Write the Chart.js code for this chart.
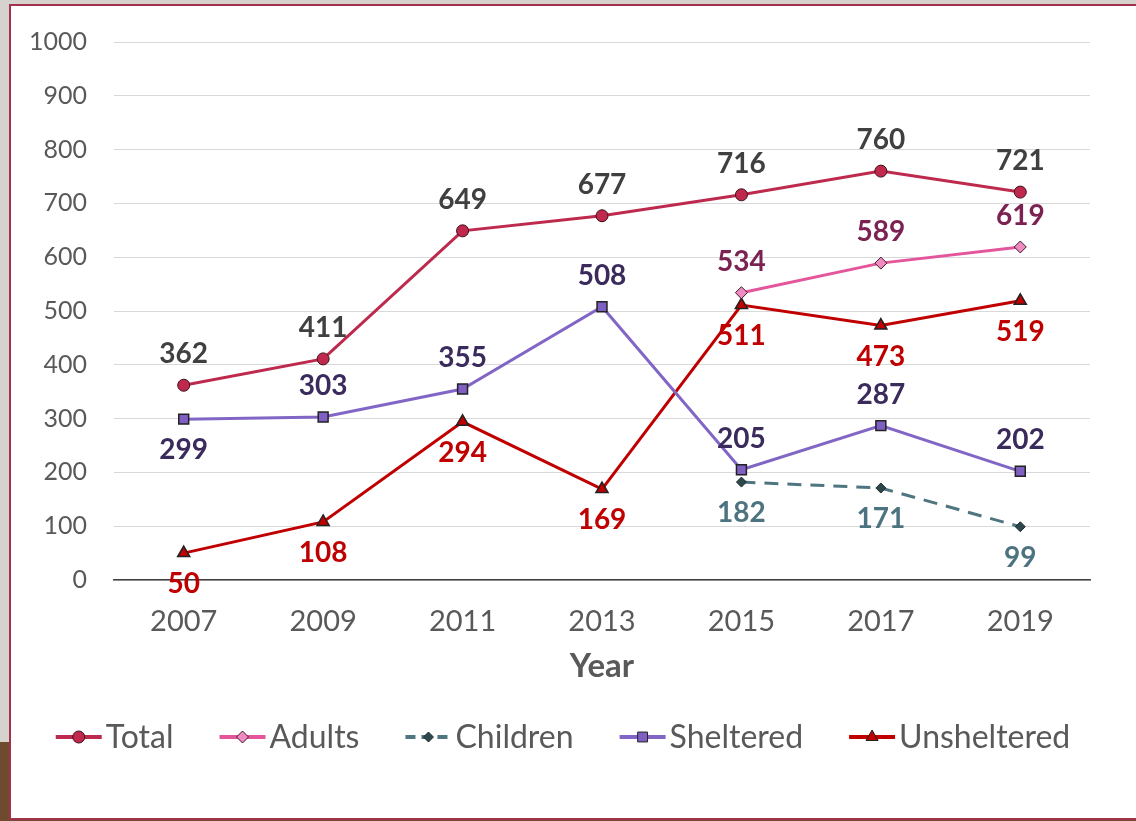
<!DOCTYPE html>
<html>
<head>
<meta charset="utf-8">
<script src="https://cdn.jsdelivr.net/npm/chart.js@4.4.1/dist/chart.umd.min.js"></script>
<style>
  html, body { margin: 0; padding: 0; }
  body {
    width: 1136px; height: 821px; overflow: hidden; position: relative;
    background: linear-gradient(to bottom, #d6d3ce 0, #d6d3ce 742px, #6e4b2e 742px);
  }
  #frame {
    position: absolute; left: 9px; top: 4px; width: 1140px; height: 812px;
    background: #fff; border: 2px solid #a3324f;
  }
  #wrap { position: absolute; left: 0; top: 0; width: 1136px; height: 821px; }
</style>
</head>
<body>
<div id="frame"></div>
<div id="wrap"><canvas id="chart-homeless" width="1136" height="821"></canvas></div>
<script>
const years = ["2007", "2009", "2011", "2013", "2015", "2017", "2019"];
const total = [362, 411, 649, 677, 716, 760, 721];
const adults = [null, null, null, null, 534, 589, 619];
const children = [null, null, null, null, 182, 171, 99];
const sheltered = [299, 303, 355, 508, 205, 287, 202];
const unsheltered = [50, 108, 294, 169, 511, 473, 519];

const FONT = "Lato, 'Open Sans', sans-serif";

// value labels above / below each point
const valueLabels = {
	id: "valueLabels",
	afterDatasetsDraw(chart) {
		const ctx = chart.ctx;
		chart.data.datasets.forEach((ds, i) => {
			const meta = chart.getDatasetMeta(i);
			meta.data.forEach((pt, j) => {
				const v = ds.data[j];
				if (v === null || v === undefined) return;
				const up = ds.labelSide[j] === "above";
				ctx.save();
				ctx.font = "bold 28px " + FONT;
				ctx.fillStyle = ds.labelColor;
				ctx.textAlign = "center";
				ctx.textBaseline = "middle";
				ctx.fillText(String(v), pt.x, pt.y + (up ? -31 : 31));
				ctx.restore();
			});
		});
	},
};

// legend with a line sample and marker, like the office chart
const lineLegend = {
	id: "lineLegend",
	afterDraw(chart) {
		const ctx = chart.ctx;
		const sample = 46;
		const gap = 46;
		ctx.save();
		ctx.font = "32px " + FONT;
		let widths = chart.data.datasets.map((ds) => sample + 4 + ctx.measureText(ds.label).width);
		let full = widths.reduce((a, b) => a + b, 0) + gap * (widths.length - 1);
		let x = 563 - full / 2;
		const y = 737;
		chart.data.datasets.forEach((ds, i) => {
			ctx.save();
			ctx.strokeStyle = ds.borderColor;
			ctx.lineWidth = 4;
			if (ds.borderDash) ctx.setLineDash([10, 6]);
			ctx.beginPath();
			ctx.moveTo(x, y);
			ctx.lineTo(x + sample, y);
			ctx.stroke();
			ctx.setLineDash([]);
			ctx.fillStyle = ds.pointBackgroundColor;
			ctx.strokeStyle = ds.pointBorderColor;
			ctx.lineWidth = 1;
			Chart.helpers.drawPoint(ctx, {
				pointStyle: ds.pointStyle,
				radius: ds.pointRadius,
				rotation: 0,
				borderWidth: 1,
			}, x + sample / 2, y);
			ctx.restore();
			ctx.fillStyle = "#595959";
			ctx.textAlign = "left";
			ctx.textBaseline = "middle";
			ctx.fillText(ds.label, x + sample + 4, y + 1);
			x += widths[i] + gap;
		});
		ctx.restore();
	},
};

const ctx = document.getElementById("chart-homeless").getContext("2d");

new Chart(ctx, {
	type: "line",
	data: {
		labels: years,
		datasets: [
			{
				label: "Total",
				data: total,
				borderColor: "#bd2a4e",
				borderWidth: 3,
				pointStyle: "circle",
				pointRadius: 6,
				pointBackgroundColor: "#c0294d",
				pointBorderColor: "#3a1018",
				pointBorderWidth: 1,
				labelColor: "#404040",
				labelSide: ["above", "above", "above", "above", "above", "above", "above"],
			},
			{
				label: "Adults",
				data: adults,
				borderColor: "#e4559b",
				borderWidth: 3,
				pointStyle: "rectRot",
				pointRadius: 6,
				pointBackgroundColor: "#f08bc0",
				pointBorderColor: "#3a1a2a",
				pointBorderWidth: 1,
				labelColor: "#7b2252",
				labelSide: ["above", "above", "above", "above", "above", "above", "above"],
			},
			{
				label: "Children",
				data: children,
				borderColor: "#4f7580",
				borderWidth: 3,
				borderDash: [14, 9],
				pointStyle: "rectRot",
				pointRadius: 5,
				pointBackgroundColor: "#2e474b",
				pointBorderColor: "#1e2e30",
				pointBorderWidth: 1,
				labelColor: "#4d7380",
				labelSide: ["below", "below", "below", "below", "below", "below", "below"],
			},
			{
				label: "Sheltered",
				data: sheltered,
				borderColor: "#8266c6",
				borderWidth: 3,
				pointStyle: "rect",
				pointRadius: 7,
				pointBackgroundColor: "#7f5fc2",
				pointBorderColor: "#222",
				pointBorderWidth: 1.5,
				labelColor: "#3b2b5c",
				labelSide: ["below", "above", "above", "above", "above", "above", "above"],
			},
			{
				label: "Unsheltered",
				data: unsheltered,
				borderColor: "#c00000",
				borderWidth: 3,
				pointStyle: "triangle",
				pointRadius: 7,
				pointBackgroundColor: "#c00000",
				pointBorderColor: "#222",
				pointBorderWidth: 1.5,
				labelColor: "#c00000",
				labelSide: ["below", "below", "below", "below", "below", "below", "below"],
			},
		],
	},
	options: {
		responsive: false,
		animation: false,
		devicePixelRatio: 1,
		layout: {
			padding: { top: 42, right: 46, bottom: 131, left: 0 },
		},
		scales: {
			x: {
				offset: true,
				grid: { display: false, drawTicks: false },
				border: { display: true, color: "#404040", width: 1.5 },
				ticks: {
					color: "#595959",
					font: { family: FONT, size: 29 },
					padding: 24,
				},
				title: {
					display: true,
					text: "Year",
					color: "#595959",
					font: { family: FONT, size: 33, weight: "bold" },
					padding: { top: 2 },
				},
				afterFit(scale) {
					scale.height = 110;
				},
			},
			y: {
				min: 0,
				max: 1000,
				grid: { color: "#d9d9d9", lineWidth: 1, drawTicks: false },
				border: { display: false },
				ticks: {
					stepSize: 100,
					color: "#595959",
					font: { family: FONT, size: 25 },
					padding: 27,
					callback: (v) => String(v),
				},
				afterFit(scale) {
					scale.width = 114;
				},
			},
		},
		plugins: {
			legend: { display: false },
			tooltip: { enabled: false },
		},
	},
	plugins: [valueLabels, lineLegend],
});
</script>
</body>
</html>
